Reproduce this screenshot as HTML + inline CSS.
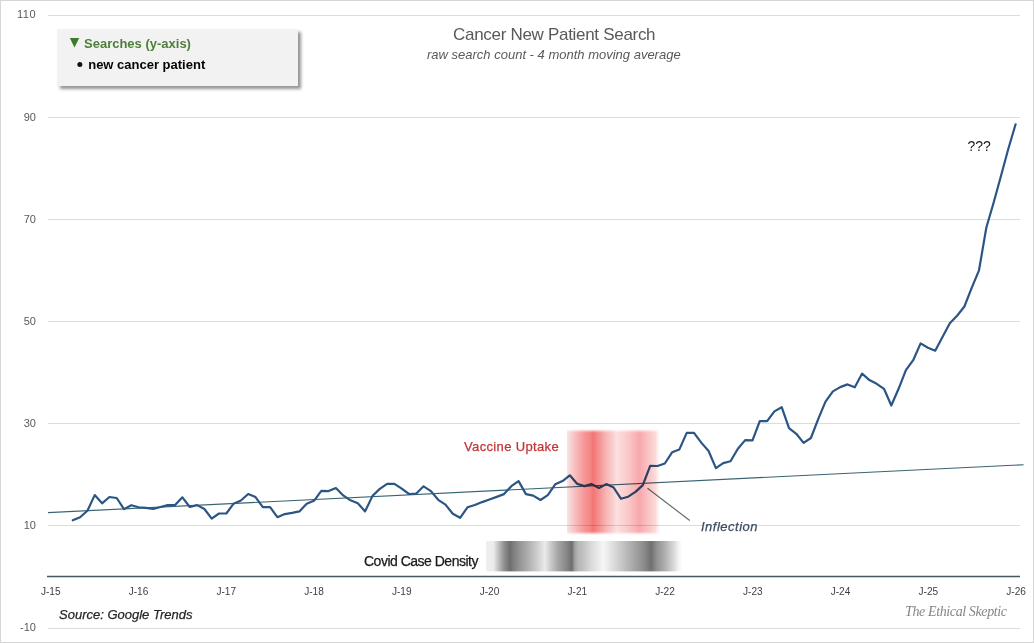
<!DOCTYPE html>
<html><head><meta charset="utf-8"><style>
html,body{margin:0;padding:0;background:#fff;}
body{width:1034px;height:643px;overflow:hidden;position:relative;font-family:"Liberation Sans",sans-serif;}
svg{position:absolute;left:0;top:0;}
.frame{position:absolute;left:0;top:0;width:1032px;height:641px;border:1px solid #d6d6d6;}
.legend{position:absolute;left:57px;top:29px;width:241px;height:57px;background:#f2f2f2;box-shadow:3px 3px 3px rgba(0,0,0,0.42);}
.lg1{position:absolute;left:27px;top:6.6px;font-size:13px;font-weight:bold;color:#4d7f38;white-space:nowrap;}
.lg2{position:absolute;left:31.2px;top:27.6px;font-size:13px;font-weight:bold;color:#050505;white-space:nowrap;}
.legend svg{position:absolute;left:0;top:0;}
.t{position:absolute;white-space:nowrap;}
.w{-webkit-text-stroke:0.25px currentColor;}
</style></head><body>
<div class="frame"></div>
<svg width="1034" height="643" viewBox="0 0 1034 643">
<defs>
<linearGradient id="gg" x1="485.9" x2="682" y1="0" y2="0" gradientUnits="userSpaceOnUse"><stop offset="0.000" stop-color="rgb(240,240,240)"/><stop offset="0.039" stop-color="rgb(235,235,235)"/><stop offset="0.064" stop-color="rgb(192,192,192)"/><stop offset="0.093" stop-color="rgb(144,144,144)"/><stop offset="0.123" stop-color="rgb(110,110,110)"/><stop offset="0.143" stop-color="rgb(128,128,128)"/><stop offset="0.177" stop-color="rgb(152,152,152)"/><stop offset="0.217" stop-color="rgb(176,176,176)"/><stop offset="0.257" stop-color="rgb(202,202,202)"/><stop offset="0.301" stop-color="rgb(234,234,234)"/><stop offset="0.325" stop-color="rgb(208,208,208)"/><stop offset="0.365" stop-color="rgb(168,168,168)"/><stop offset="0.409" stop-color="rgb(136,136,136)"/><stop offset="0.439" stop-color="rgb(110,110,110)"/><stop offset="0.453" stop-color="rgb(160,160,160)"/><stop offset="0.473" stop-color="rgb(184,184,184)"/><stop offset="0.490" stop-color="rgb(190,190,190)"/><stop offset="0.534" stop-color="rgb(216,216,216)"/><stop offset="0.599" stop-color="rgb(246,246,246)"/><stop offset="0.643" stop-color="rgb(224,224,224)"/><stop offset="0.697" stop-color="rgb(196,196,196)"/><stop offset="0.751" stop-color="rgb(168,168,168)"/><stop offset="0.805" stop-color="rgb(140,140,140)"/><stop offset="0.843" stop-color="rgb(112,112,112)"/><stop offset="0.870" stop-color="rgb(144,144,144)"/><stop offset="0.914" stop-color="rgb(176,176,176)"/><stop offset="0.957" stop-color="rgb(216,216,216)"/><stop offset="0.984" stop-color="rgb(244,244,244)"/><stop offset="1.000" stop-color="rgb(255,255,255)"/></linearGradient>
<linearGradient id="rg" x1="567" x2="660" y1="0" y2="0" gradientUnits="userSpaceOnUse"><stop offset="0.000" stop-color="rgb(250, 228, 224)"/><stop offset="0.043" stop-color="rgb(249, 208, 208)"/><stop offset="0.092" stop-color="rgb(248, 188, 188)"/><stop offset="0.142" stop-color="rgb(247, 168, 168)"/><stop offset="0.192" stop-color="rgb(246, 148, 148)"/><stop offset="0.242" stop-color="rgb(245, 136, 136)"/><stop offset="0.282" stop-color="rgb(242, 118, 116)"/><stop offset="0.317" stop-color="rgb(245, 133, 133)"/><stop offset="0.367" stop-color="rgb(246, 156, 156)"/><stop offset="0.417" stop-color="rgb(248, 180, 180)"/><stop offset="0.467" stop-color="rgb(249, 196, 196)"/><stop offset="0.532" stop-color="rgb(252, 224, 224)"/><stop offset="0.598" stop-color="rgb(250, 212, 212)"/><stop offset="0.678" stop-color="rgb(249, 196, 196)"/><stop offset="0.733" stop-color="rgb(248, 180, 180)"/><stop offset="0.782" stop-color="rgb(248, 168, 172)"/><stop offset="0.841" stop-color="rgb(249, 186, 190)"/><stop offset="0.895" stop-color="rgb(250, 200, 200)"/><stop offset="0.949" stop-color="rgb(251, 218, 218)"/><stop offset="0.982" stop-color="rgb(254, 244, 240)"/><stop offset="1.000" stop-color="rgb(255, 255, 255)"/></linearGradient>
<filter id="blurv" x="-5%" y="-20%" width="110%" height="140%"><feGaussianBlur stdDeviation="0 1.1"/></filter>
</defs>
<g stroke="#dcdcdc" stroke-width="1"><line x1="48" y1="15.5" x2="1020" y2="15.5" /><line x1="48" y1="117.5" x2="1020" y2="117.5" /><line x1="48" y1="219.5" x2="1020" y2="219.5" /><line x1="48" y1="321.5" x2="1020" y2="321.5" /><line x1="48" y1="423.5" x2="1020" y2="423.5" /><line x1="48" y1="525.5" x2="1020" y2="525.5" /><line x1="48" y1="628.5" x2="1020" y2="628.5" /></g>
<line x1="47" y1="576.5" x2="1020" y2="576.5" stroke="#44575c" stroke-width="1.5"/>
<g font-family="Liberation Sans" font-size="11" fill="#595959" text-anchor="end"><text x="35.7" y="18" textLength="18.8" lengthAdjust="spacing">110</text><text x="36" y="121">90</text><text x="36" y="223">70</text><text x="36" y="325">50</text><text x="36" y="427">30</text><text x="36" y="529">10</text><text x="36" y="631">-10</text></g>
<g font-family="Liberation Sans" font-size="11" fill="#404040"><text x="40.9" y="595" textLength="19.6" lengthAdjust="spacingAndGlyphs">J-15</text><text x="128.7" y="595" textLength="19.6" lengthAdjust="spacingAndGlyphs">J-16</text><text x="216.4" y="595" textLength="19.6" lengthAdjust="spacingAndGlyphs">J-17</text><text x="304.2" y="595" textLength="19.6" lengthAdjust="spacingAndGlyphs">J-18</text><text x="391.9" y="595" textLength="19.6" lengthAdjust="spacingAndGlyphs">J-19</text><text x="479.7" y="595" textLength="19.6" lengthAdjust="spacingAndGlyphs">J-20</text><text x="567.5" y="595" textLength="19.6" lengthAdjust="spacingAndGlyphs">J-21</text><text x="655.2" y="595" textLength="19.6" lengthAdjust="spacingAndGlyphs">J-22</text><text x="743.0" y="595" textLength="19.6" lengthAdjust="spacingAndGlyphs">J-23</text><text x="830.7" y="595" textLength="19.6" lengthAdjust="spacingAndGlyphs">J-24</text><text x="918.5" y="595" textLength="19.6" lengthAdjust="spacingAndGlyphs">J-25</text><text x="1006.3" y="595" textLength="19.6" lengthAdjust="spacingAndGlyphs">J-26</text></g>
<rect x="485.9" y="541" width="196.1" height="30.4" fill="url(#gg)"/>
<line x1="48" y1="512.6" x2="1023.6" y2="464.7" stroke="#3a6372" stroke-width="1.15"/>
<polyline points="72.8,520.3 80.1,517.3 87.4,510.8 94.7,495.1 102.1,503.3 109.4,497.0 116.7,498.0 124.0,509.1 131.3,505.2 138.6,507.3 145.9,507.9 153.2,509.0 160.5,507.0 167.8,505.1 175.1,505.1 182.4,497.3 189.8,507.0 197.1,505.1 204.4,509.0 211.7,518.7 219.0,513.5 226.3,513.5 233.6,503.7 240.9,500.5 248.2,494.0 255.5,497.1 262.8,507.1 270.1,507.1 277.4,517.2 284.8,514.1 292.1,512.9 299.4,511.4 306.7,503.7 314.0,500.8 321.3,490.9 328.6,491.1 335.9,488.0 343.2,495.4 350.5,500.3 357.8,503.2 365.1,511.4 372.5,495.9 379.8,488.9 387.1,483.8 394.4,483.8 401.7,488.7 409.0,494.0 416.3,493.5 423.6,486.3 430.9,491.1 438.2,499.8 445.5,504.6 452.8,513.8 460.1,517.8 467.5,507.3 474.8,505.0 482.1,502.1 489.4,499.5 496.7,496.9 504.0,494.1 511.3,486.2 518.6,481.1 525.9,494.1 533.2,495.6 540.5,500.0 547.8,495.1 555.2,484.3 562.5,481.1 569.8,475.3 577.1,483.7 584.4,486.1 591.7,484.1 599.0,488.0 606.3,484.1 613.6,487.5 620.9,498.7 628.2,496.7 635.5,491.9 642.8,485.1 650.2,465.9 657.5,466.0 664.8,463.5 672.1,452.3 679.4,449.4 686.7,432.9 694.0,432.9 701.3,442.6 708.6,451.0 715.9,468.1 723.2,463.1 730.5,461.2 737.9,448.8 745.2,440.1 752.5,440.4 759.8,421.2 767.1,421.2 774.4,411.4 781.7,407.2 789.0,428.2 796.3,433.8 803.6,442.9 810.9,438.0 818.2,419.1 825.5,401.6 832.9,391.4 840.2,387.1 847.5,384.4 854.8,387.3 862.1,373.6 869.4,380.1 876.7,383.8 884.0,388.8 891.3,405.5 898.6,388.8 905.9,370.1 913.2,360.2 920.6,343.4 927.9,347.7 935.2,350.7 942.5,337.0 949.8,323.3 957.1,315.8 964.4,306.5 971.7,287.9 979.0,270.3 986.3,227.8 993.6,202.8 1000.9,176.3 1008.2,149.3 1015.6,124.3" fill="none" stroke="#2b5684" stroke-width="2.2" stroke-linejoin="round" stroke-linecap="round"/>
<line x1="647.5" y1="488.2" x2="689.7" y2="520.5" stroke="#5f6b73" stroke-width="1.15"/>
<rect x="567" y="430.8" width="93" height="102.4" fill="url(#rg)" filter="url(#blurv)" style="mix-blend-mode:multiply"/>
</svg>
<div class="legend"><svg width="241" height="57"><polygon points="12.8,9.1 22.2,9.1 17.5,18.6" fill="#3b7b2b"/><circle cx="22.85" cy="35.45" r="2.5" fill="#111"/></svg><div class="lg1">Searches (y-axis)</div><div class="lg2">new cancer patient</div></div>
<div class="t" style="left:453px;top:25px;font-size:17px;letter-spacing:-0.3px;color:#595959;">Cancer New Patient Search</div>
<div class="t" style="left:427px;top:47px;font-size:13px;font-style:italic;color:#595959;">raw search count - 4 month moving average</div>
<div class="t w" style="left:464px;top:439px;font-size:13px;letter-spacing:0.35px;color:#c03636;">Vaccine Uptake</div>
<div class="t w" style="left:701px;top:518.8px;font-size:13px;letter-spacing:0.5px;font-style:italic;color:#3d4c62;">Inflection</div>
<div class="t w" style="left:364px;top:553px;font-size:14px;letter-spacing:-0.5px;color:#1a1a1a;">Covid Case Density</div>
<div class="t w" style="left:59px;top:607px;font-size:13px;font-style:italic;color:#262626;">Source: Google Trends</div>
<div class="t" style="left:967.5px;top:137.5px;font-size:14px;color:#1a1a1a;">???</div>
<div class="t" style="left:905px;top:603.7px;font-size:14px;letter-spacing:-0.38px;font-style:italic;font-family:'Liberation Serif',serif;color:#858585;">The Ethical Skeptic</div>
</body></html>
